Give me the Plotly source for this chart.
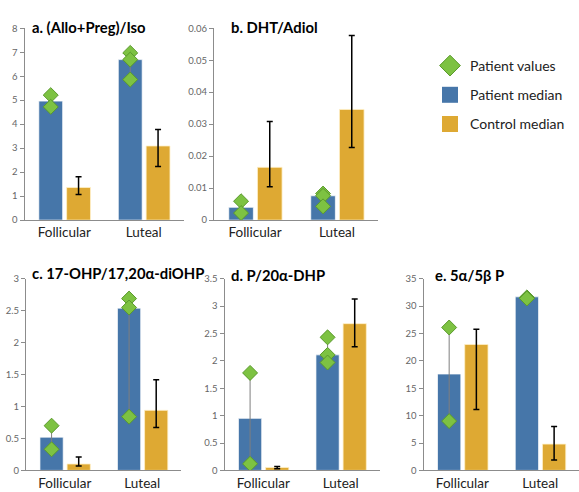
import plotly.graph_objects as go

W, H = 579, 492

categories = ["Follicular", "Luteal"]
panel_titles = ["a. (Allo+Preg)/Iso", "b. DHT/Adiol", "c. 17-OHP/17,20α-diOHP",
                "d. P/20α-DHP", "e. 5α/5β P"]
y_max = [8, 0.06, 3, 3.5, 35]
y_step = [1, 0.01, 0.5, 0.5, 5]

# Patient median per category (Follicular, Luteal)
patient_median_a = [4.96, 6.69]
patient_median_b = [0.0040, 0.0076]
patient_median_c = [0.52, 2.54]
patient_median_d = [0.95, 2.11]
patient_median_e = [17.6, 31.7]

# Control median with error range
control_median_a = [1.36, 3.09]
control_median_b = [0.0165, 0.0346]
control_median_c = [0.10, 0.94]
control_median_d = [0.054, 2.68]
control_median_e = [23.0, 4.8]

control_low_a = [1.07, 2.23]
control_low_b = [0.0104, 0.0227]
control_low_c = [0.07, 0.67]
control_low_d = [0.03, 2.26]
control_low_e = [11.1, 1.9]

control_high_a = [1.81, 3.78]
control_high_b = [0.0308, 0.0577]
control_high_c = [0.21, 1.42]
control_high_d = [0.07, 3.13]
control_high_e = [25.8, 8.0]

# Individual patient values: [Follicular list, Luteal list]
patient_values_a = [[5.21, 4.72], [6.97, 6.69, 5.86]]
patient_values_b = [[0.0059, 0.0022], [0.0083, 0.0076, 0.0043]]
patient_values_c = [[0.70, 0.33], [2.69, 2.55, 0.84]]
patient_values_d = [[1.78, 0.12], [2.43, 2.11, 1.97]]
patient_values_e = [[26.1, 9.0], [31.6, 31.4]]

patient_medians = [patient_median_a, patient_median_b, patient_median_c, patient_median_d, patient_median_e]
control_medians = [control_median_a, control_median_b, control_median_c, control_median_d, control_median_e]
control_lows = [control_low_a, control_low_b, control_low_c, control_low_d, control_low_e]
control_highs = [control_high_a, control_high_b, control_high_c, control_high_d, control_high_e]
patient_values = [patient_values_a, patient_values_b, patient_values_c, patient_values_d, patient_values_e]

# layout (pixel boxes: x0, x1, ytop, ybottom)
boxes = [
    (24.5, 183.5, 22.7, 219),
    (214, 378, 22.7, 219),
    (26, 181, 279, 475),
    (224.5, 379.5, 279, 475),
    (423.5, 579, 279, 475),
]
title_pos = [(30, 21), (229, 21), (30, 273), (229, 275), (433, 275)]

BLUE = "#4676A9"
GOLD = "#DEA933"
GREEN = "#7DC242"
GREEN_EDGE = "#5A9A2C"
FONT = "Lato"

P_OFF, C_OFF, BW = -0.32, 0.03, 0.30
p_center = P_OFF + BW / 2

fig = go.Figure()
xs = list(range(len(categories)))

for i in range(5):
    ax = "" if i == 0 else str(i + 1)
    xa, ya = "x" + ax, "y" + ax
    fig.add_trace(go.Bar(
        x=xs, y=patient_medians[i], offset=P_OFF, width=BW,
        marker=dict(color=BLUE, line=dict(color="rgba(255,255,255,0.7)", width=1)),
        xaxis=xa, yaxis=ya, showlegend=False, name="Patient median"))
    cm = control_medians[i]
    fig.add_trace(go.Bar(
        x=xs, y=cm, offset=C_OFF, width=BW,
        marker=dict(color=GOLD, line=dict(color="rgba(255,240,200,0.8)", width=1)),
        error_y=dict(type="data", symmetric=False,
                     array=[h - m for h, m in zip(control_highs[i], cm)],
                     arrayminus=[m - l for l, m in zip(control_lows[i], cm)],
                     color="black", thickness=1.5, width=3),
        xaxis=xa, yaxis=ya, showlegend=False, name="Control median"))
    for k, vals in enumerate(patient_values[i]):
        v = sorted(vals, reverse=True)
        fig.add_trace(go.Scatter(
            x=[k + p_center] * len(v), y=v, mode="lines+markers",
            line=dict(color="#7f7f7f", width=1),
            marker=dict(symbol="diamond", size=11.5, color=GREEN,
                        line=dict(color=GREEN_EDGE, width=1)),
            xaxis=xa, yaxis=ya, showlegend=False, name="Patient values"))

    x0, x1, yt, yb = boxes[i]
    fig.update_layout(**{
        ("xaxis" + ax): dict(
            domain=[x0 / W, x1 / W], range=[-0.5, 1.5], anchor=ya,
            tickvals=xs, ticktext=categories, showline=True, linecolor="#8c8c8c",
            linewidth=1, ticks="", showgrid=False, zeroline=False,
            tickfont=dict(family=FONT, size=13.5, color="#222")),
        ("yaxis" + ax): dict(
            domain=[1 - yb / H, 1 - yt / H], range=[0, y_max[i]], dtick=y_step[i],
            anchor=xa, showline=True, linecolor="#8c8c8c", linewidth=1,
            ticks="outside", ticklen=4, tickcolor="#8c8c8c", showgrid=False,
            zeroline=False, tickfont=dict(family=FONT, size=9.5, color="#666")),
    })
    tx, ty = title_pos[i]
    fig.add_annotation(text=panel_titles[i], xref="paper", yref="paper",
                       x=tx / W, y=1 - ty / H, xanchor="left", yanchor="middle",
                       showarrow=False,
                       font=dict(family=FONT, size=14.8, color="black", weight=700))

# legend entries
fig.add_trace(go.Scatter(x=[None], y=[None], mode="markers", name="Patient values",
                         marker=dict(symbol="diamond", size=16, color=GREEN,
                                     line=dict(color=GREEN_EDGE, width=1)),
                         legendgroup="g1"))
fig.add_trace(go.Scatter(x=[None], y=[None], mode="markers", name="Patient median",
                         marker=dict(symbol="square", size=16, color=BLUE),
                         legendgroup="g2"))
fig.add_trace(go.Scatter(x=[None], y=[None], mode="markers", name="Control median",
                         marker=dict(symbol="square", size=16, color=GOLD),
                         legendgroup="g3"))

fig.update_layout(
    width=W, height=H, margin=dict(l=0, r=0, t=0, b=0),
    paper_bgcolor="white", plot_bgcolor="white",
    barmode="overlay",
    font=dict(family=FONT),
    showlegend=True,
    legend=dict(x=430 / W, y=1 - 45 / H, xanchor="left", yanchor="top",
                traceorder="grouped", tracegroupgap=8, itemsizing="trace",
                font=dict(family=FONT, size=14, color="#222"),
                bgcolor="rgba(0,0,0,0)"),
)

fig.write_html("out.html", config={"displayModeBar": False},
               post_script="document.body.style.margin='0';")
